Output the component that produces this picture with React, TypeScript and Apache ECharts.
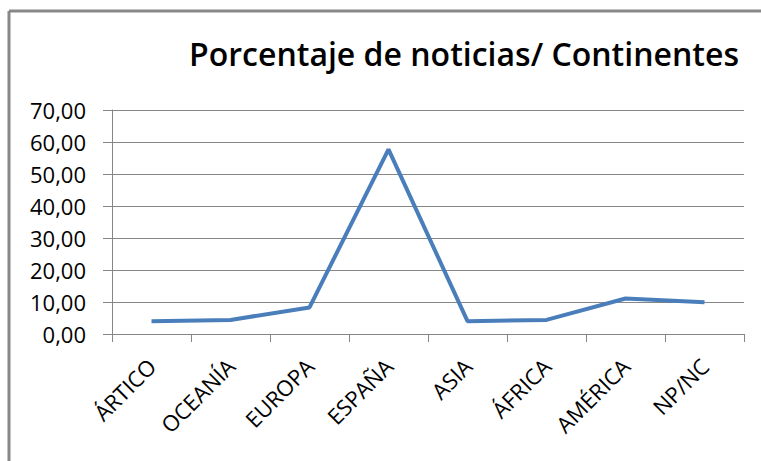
import React, { useEffect, useRef } from "react";
import * as echarts from "echarts";

const categories = ["ÁRTICO", "OCEANÍA", "EUROPA", "ESPAÑA", "ASIA", "ÁFRICA", "AMÉRICA", "NP/NC"];
const values = [4.0, 4.4, 8.3, 57.7, 4.0, 4.4, 11.1, 9.9];
const titleText = "Porcentaje de noticias/ Continentes";
const yMin = 0;
const yMax = 70;
const yInterval = 10;

export default function App() {
  const ref = useRef<HTMLDivElement>(null);
  useEffect(() => {
    document.body.style.margin = "0";
    const chart = echarts.init(ref.current!, null, { renderer: "svg" });
    chart.setOption({
      animation: false,
      backgroundColor: "#ffffff",
      textStyle: { fontFamily: "Open Sans" },
      grid: { left: 112, right: 17, top: 110, bottom: 127, containLabel: false },
      graphic: [
        {
          type: "line",
          shape: { x1: 9, y1: 11, x2: 770, y2: 11 },
          style: { stroke: "#888888", lineWidth: 3 },
        },
        {
          type: "line",
          shape: { x1: 9, y1: 11, x2: 9, y2: 470 },
          style: { stroke: "#888888", lineWidth: 3 },
        },
        {
          type: "text",
          x: 464,
          y: 53,
          style: {
            text: titleText,
            fontFamily: "Open Sans",
            fontSize: 32,
            fontWeight: 600,
            fill: "#000000",
            textAlign: "center",
            textVerticalAlign: "middle",
          },
        },
      ],
      xAxis: {
        type: "category",
        data: categories,
        boundaryGap: true,
        axisLine: { show: true, lineStyle: { color: "#868686", width: 1 } },
        axisTick: { show: true, length: 8, alignWithLabel: false, lineStyle: { color: "#868686" } },
        axisLabel: {
          rotate: 45,
          interval: 0,
          margin: 28,
          fontSize: 22,
          fontFamily: "Open Sans",
          color: "#000000",
        },
        splitLine: { show: false },
      },
      yAxis: {
        type: "value",
        min: yMin,
        max: yMax,
        interval: yInterval,
        axisLine: { show: true, lineStyle: { color: "#868686", width: 1 } },
        axisTick: { show: true, length: 9, lineStyle: { color: "#868686" } },
        axisLabel: {
          margin: 26,
          fontSize: 22,
          fontFamily: "Open Sans",
          color: "#000000",
          formatter: (v: number) => v.toFixed(2).replace(".", ","),
        },
        splitLine: { show: true, lineStyle: { color: "#868686", width: 1 } },
      },
      series: [
        {
          type: "line",
          data: values,
          symbol: "none",
          lineStyle: { color: "#4a7ebb", width: 4 },
          itemStyle: { color: "#4a7ebb" },
        },
      ],
    });
    return () => chart.dispose();
  }, []);
  return <div ref={ref} style={{ width: 761, height: 461 }} />;
}
